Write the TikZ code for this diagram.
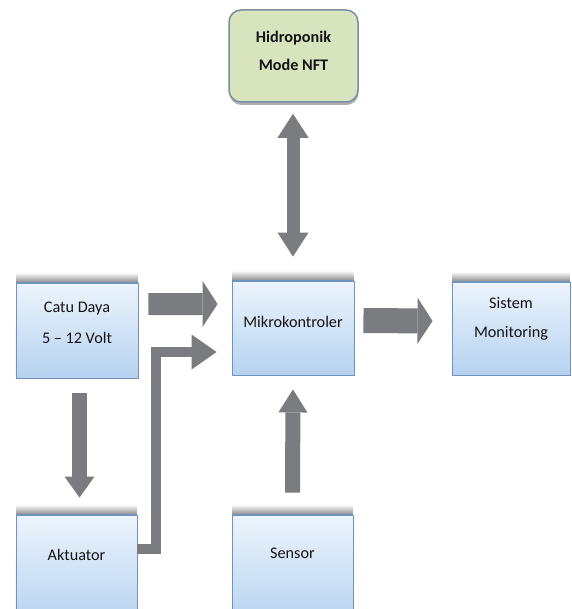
\documentclass[tikz,border=0pt]{standalone}
\usepackage{fontspec}
\setmainfont{Carlito}
\usetikzlibrary{arrows.meta,shadows,calc}
\definecolor{boxtop}{RGB}{236,244,252}
\definecolor{boxbot}{RGB}{182,210,240}
\definecolor{boxborder}{RGB}{112,146,190}
\definecolor{hidrofill}{RGB}{215,228,189}
\definecolor{hidroborder}{RGB}{122,142,162}
\definecolor{arrowgray}{RGB}{122,124,128}
\definecolor{shadowgray}{RGB}{140,140,140}
\definecolor{txt}{RGB}{20,20,20}
\tikzset{
  bluebox/.style={draw=boxborder, line width=0.9bp, top color=boxtop, bottom color=boxbot,
    inner sep=0pt, minimum width=#1},
  hidrobox/.style={draw=hidroborder, line width=1.5bp, fill=hidrofill, rounded corners=12bp,
    inner sep=0pt, minimum width=129bp, minimum height=92bp,
    drop shadow={shadow xshift=0.5bp, shadow yshift=-3bp, opacity=0.45, fill=black!70}},
  boxtext/.style={text=txt, align=center, inner sep=0pt, font=\fontsize{16.2bp}{#1}\selectfont},
  blk/.style={draw=arrowgray, line width=#1, line join=miter},
}
\begin{document}
\begin{tikzpicture}[x=1bp,y=1bp]
\useasboundingbox (0,0) rectangle (572,-609);
\fill[white] (0,0) rectangle (572,-609);

% boxes
\node[hidrobox] (hidro) at (293.5,-56) {};
\node[bluebox=122bp, minimum height=95bp] (catu) at (77,-330.5) {};
\node[bluebox=122bp, minimum height=94bp] (mikro) at (293,-328) {};
\node[bluebox=118bp, minimum height=93bp] (sistem) at (511,-328.5) {};
\node[bluebox=121bp, minimum height=110bp] (akt) at (76.5,-570) {};
\node[bluebox=121bp, minimum height=110bp] (sensor) at (292.5,-570) {};

% top shadows of the blue boxes
\foreach \b in {catu,mikro,sistem,akt,sensor}{
  \shade[top color=white, bottom color=shadowgray]
    ([xshift=1bp]\b.north west) rectangle ([xshift=-1bp,yshift=10bp]\b.north east);
  \draw[boxborder, line width=0.9bp] (\b.north west) -- (\b.north east);
}

% texts
\node[boxtext=28bp, font=\bfseries\fontsize{16.2bp}{28bp}\selectfont] (hidro-t) at ([yshift=5bp]hidro.center) {Hidroponik\\Mode NFT};
\node[boxtext=31bp] (catu-t) at ([yshift=8bp]catu.center) {Catu Daya\\5 – 12 Volt};
\node[boxtext=20bp] (mikro-t) at ([yshift=6bp]mikro.center) {Mikrokontroler};
\node[boxtext=29bp] (sistem-t) at ([yshift=10bp]sistem.center) {Sistem\\Monitoring};
\node[boxtext=20bp] (akt-t) at ([yshift=15bp]akt.center) {Aktuator};
\node[boxtext=20bp] (sensor-t) at ([yshift=17bp]sensor.center) {Sensor};

% block arrows
\draw[blk=22bp, -{Triangle[width=46bp,length=15bp,line width=0pt]}]
  ([xshift=10bp,yshift=26.5bp]catu.east) -- ([xshift=-14bp,yshift=24bp]mikro.west);
\draw[blk=25bp, -{Triangle[width=46bp,length=15bp,line width=0pt]}]
  ([xshift=9bp,yshift=7.5bp]mikro.east) -- ([xshift=-19bp,yshift=7.5bp]sistem.west);
\draw[blk=15bp, -{Triangle[width=30bp,length=21bp,line width=0pt]}]
  ([xshift=2.5bp,yshift=-15bp]catu.south) -- ([xshift=3bp,yshift=17bp]akt.north);
\draw[blk=15bp, -{Triangle[width=29bp,length=23bp,line width=0pt]}]
  ([yshift=22bp]sensor.north) -- ([yshift=-14bp]mikro.south);
\draw[blk=13bp, {Triangle[width=31bp,length=24bp,line width=0pt]}-{Triangle[width=31bp,length=24bp,line width=0pt]}]
  ([xshift=-0.5bp,yshift=-11bp]hidro.south) -- ([yshift=24bp]mikro.north);
\draw[blk=10bp, -{Triangle[width=35bp,length=25bp,line width=0pt]}]
  ([yshift=21bp]akt.east) -- ++(19bp,0) |- ([xshift=-15bp,yshift=-24bp]mikro.west);
\end{tikzpicture}
\end{document}
